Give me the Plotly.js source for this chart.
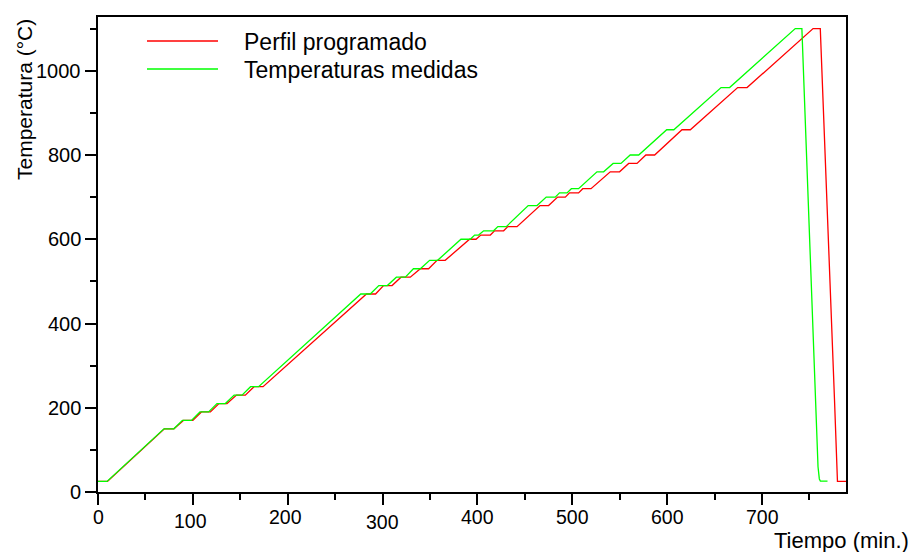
<!DOCTYPE html>
<html>
<head>
<meta charset="utf-8">
<script src="https://cdn.plot.ly/plotly-3.0.1.min.js"></script>
<style>
  html, body { margin: 0; padding: 0; background: #ffffff; }
  #chart { width: 916px; height: 552px; }
</style>
</head>
<body>
<div id="chart"></div>
<script>
// ---------------- DATA ----------------
var seriesNames = ['Perfil programado', 'Temperaturas medidas'];

// Perfil programado (red)
var programTime = [0, 10, 70, 80, 90, 100, 109, 118.5, 127.5, 136, 146, 155.3, 164.5, 174,
  283, 292.6, 301, 310, 319.4, 329.2, 339.8, 348.5, 357.4, 366, 391.7, 398.5, 403.5, 413.6,
  418, 427.6, 432, 441.7, 466, 475, 484.5, 492.6, 497, 506.6, 511, 519.7, 540, 549.8,
  559.4, 568.2, 577.5, 586.8, 615.6, 624.4, 674.3, 684.2, 753.8, 761.4, 776.4, 779.5, 790];
var programTemp = [25, 25, 150, 150, 170, 170, 190, 190, 210, 210, 230, 230, 250, 250,
  470, 470, 490, 490, 510, 510, 530, 530, 550, 550, 600, 600, 610, 610,
  620, 620, 630, 630, 680, 680, 700, 700, 710, 710, 720, 720, 760, 760,
  780, 780, 800, 800, 860, 860, 960, 960, 1100, 1100, 218, 25, 25];

// Temperaturas medidas (green)
var measuredTime = [0, 9.5, 69.5, 80, 89, 98.5, 107.5, 116.6, 125.4, 134.2, 143.5, 151.8, 160.8, 169.3,
  277, 287, 296, 305, 314.5, 324, 332.5, 339.8, 349.6, 358, 382.6, 392.5, 397, 401.2,
  406.5, 417, 421.5, 430.4, 453.5, 462.8, 472.5, 482, 486.5, 494.4, 499, 506.6, 526, 533,
  543, 551.3, 561, 570, 599.5, 607, 656.8, 665.8, 735, 742, 759, 760.4, 761.5, 769];
var measuredTemp = [25, 25, 150, 150, 170, 170, 190, 190, 210, 210, 230, 230, 250, 250,
  470, 470, 490, 490, 510, 510, 530, 530, 550, 550, 600, 600, 610, 610,
  620, 620, 630, 630, 680, 680, 700, 700, 710, 710, 720, 720, 760, 760,
  780, 780, 800, 800, 860, 860, 960, 960, 1100, 1100, 60, 31, 26, 26];

var xTickVals = [0, 100, 200, 300, 400, 500, 600, 700];
var xTickText = ['0', '100', '200', '300', '400', '500', '600', '700'];
var xMinorVals = [50, 150, 250, 350, 450, 550, 650, 750];
var yTickVals = [0, 200, 400, 600, 800, 1000];
var yTickText = ['0', '200', '400', '600', '800', '1000'];
var yMinorVals = [100, 300, 500, 700, 900, 1100];

var xTitle = 'Tiempo (min.)';
var yTitle = 'Temperatura (°C)';

// ---------------- STYLE ----------------
var FONT = 'Liberation Sans, Arial, Helvetica, sans-serif';
var W = 916, H = 552;
var M = { l: 98, r: 70, t: 17, b: 60 };
var plotW = W - M.l - M.r, plotH = H - M.t - M.b;
function px(x) { return (x - M.l) / plotW; }
function py(y) { return (H - M.b - y) / plotH; }

// small vertical / horizontal offsets of the x tick labels as seen in the picture
var xLabelDy = [0, 3.5, 0, 5, 0, 0, 0, 0];
var xLabelDx = [0, -2, -2, 0, 0, 0, 0, 0];

var RED = '#ff0000', GREEN = '#00ff00';

var traces = [
  { x: programTime, y: programTemp, type: 'scatter', mode: 'lines', name: seriesNames[0],
    line: { color: RED, width: 1.3 }, hoverinfo: 'x+y' },
  { x: measuredTime, y: measuredTemp, type: 'scatter', mode: 'lines', name: seriesNames[1],
    line: { color: GREEN, width: 1.3 }, hoverinfo: 'x+y' }
];

var annotations = [];
for (var i = 0; i < xTickVals.length; i++) {
  annotations.push({
    x: xTickVals[i], xref: 'x', y: 0, yref: 'paper',
    text: xTickText[i], showarrow: false,
    xanchor: 'center', yanchor: 'middle',
    xshift: xLabelDx[i], yshift: -25 - xLabelDy[i],
    font: { family: FONT, size: 19.5, color: '#000' }
  });
}
for (var k = 0; k < yTickVals.length; k++) {
  annotations.push({
    x: 0, xref: 'paper', y: yTickVals[k], yref: 'y',
    text: yTickText[k], showarrow: false,
    xanchor: 'right', yanchor: 'middle', xshift: -15,
    font: { family: FONT, size: 20, color: '#000' }
  });
}
annotations.push({
  x: px(841.5), xref: 'paper', y: py(540), yref: 'paper',
  text: xTitle, showarrow: false, xanchor: 'center', yanchor: 'middle',
  font: { family: FONT, size: 22, color: '#000' }
});
annotations.push({
  x: px(24), xref: 'paper', y: py(100), yref: 'paper',
  text: yTitle, showarrow: false, xanchor: 'center', yanchor: 'middle', textangle: -90,
  font: { family: FONT, size: 21, color: '#000' }
});
// legend (drawn by hand: long sample lines)
var legendRows = [41, 69];
var legendColors = [RED, GREEN];
var shapes = [];
for (var j = 0; j < seriesNames.length; j++) {
  shapes.push({
    type: 'line', xref: 'paper', yref: 'paper',
    x0: px(147), x1: px(218), y0: py(legendRows[j]), y1: py(legendRows[j]),
    line: { color: legendColors[j], width: 1.3 }
  });
  annotations.push({
    x: px(242), xref: 'paper', y: py(legendRows[j] + 1), yref: 'paper',
    text: seriesNames[j], showarrow: false, xanchor: 'left', yanchor: 'middle',
    font: { family: FONT, size: 23, color: '#000' }
  });
}

var layout = {
  width: W, height: H,
  margin: { l: M.l, r: M.r, t: M.t, b: M.b, pad: 0 },
  paper_bgcolor: '#ffffff', plot_bgcolor: '#ffffff',
  showlegend: false,
  font: { family: FONT, color: '#000' },
  xaxis: {
    range: [0, 788.5], tickmode: 'array', tickvals: xTickVals, showticklabels: false,
    ticks: 'outside', ticklen: 11, tickwidth: 2, tickcolor: '#000',
    showline: true, linewidth: 2, linecolor: '#000', mirror: true,
    showgrid: false, zeroline: false, fixedrange: true,
    minor: { tickmode: 'array', tickvals: xMinorVals, ticks: 'outside', ticklen: 6,
             tickwidth: 2, tickcolor: '#000', showgrid: false }
  },
  yaxis: {
    range: [0, 1127.6], tickmode: 'array', tickvals: yTickVals, showticklabels: false,
    ticks: 'outside', ticklen: 11, tickwidth: 2, tickcolor: '#000',
    showline: true, linewidth: 2, linecolor: '#000', mirror: true,
    showgrid: false, zeroline: false, fixedrange: true,
    minor: { tickmode: 'array', tickvals: yMinorVals, ticks: 'outside', ticklen: 6,
             tickwidth: 2, tickcolor: '#000', showgrid: false }
  },
  shapes: shapes,
  annotations: annotations
};

Plotly.newPlot('chart', traces, layout, { displayModeBar: false, staticPlot: true });
</script>
</body>
</html>
